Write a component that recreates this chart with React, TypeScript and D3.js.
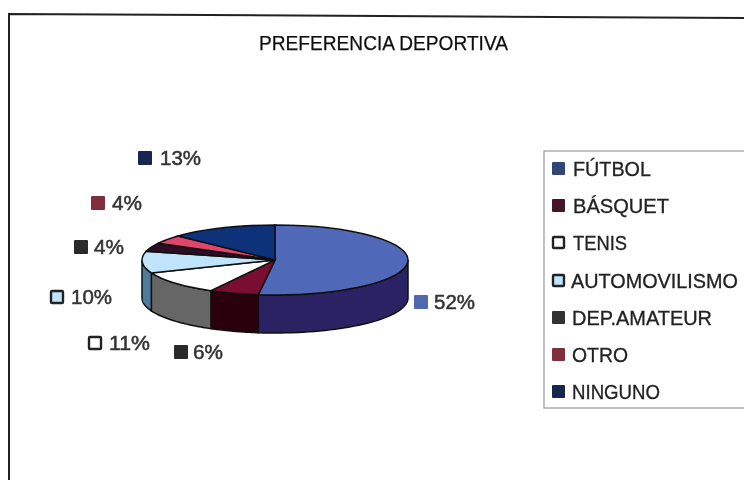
import React from "react";
import * as d3 from "d3";

const categories = ["FÚTBOL", "BÁSQUET", "TENIS", "AUTOMOVILISMO", "DEP.AMATEUR", "OTRO", "NINGUNO"];
const values = [52, 6, 11, 10, 4, 4, 13];
const title = "PREFERENCIA DEPORTIVA";
const topColors = ["#5069b8", "#7a1030", "#ffffff", "#bfe4fb", "#2d0a24", "#e0446c", "#0f3079"];
const wallColors = ["#2c2464", "#2a0010", "#666666", "#4f7a9c", "#1a0616", "#8a2040", "#0a1a4a"];
const swatchColors = ["#2f4677", "#45182c", "#ffffff", "#bfe4fb", "#333333", "#7f2e3c", "#17284f"];
const swatchStrokes = ["none", "none", "#222222", "#222222", "none", "none", "none"];
const labelSwatchColors = ["#5069b0", "#2a2a2a", "#ffffff", "#bfe4fb", "#2a2a2a", "#7f2e3c", "#17284f"];
const labelSwatchStrokes = ["none", "none", "#222222", "#222222", "none", "none", "none"];

// layout (not data)
const W = 744, H = 480;
const cx = 275, cy = 260, rx = 133, ry = 35, depth = 38;
const labelLayout = [
  { x: 414, y: 302, tx: 434, w: 41 },
  { x: 174, y: 352, tx: 193, w: 30 },
  { x: 88, y: 343, tx: 109, w: 41 },
  { x: 50, y: 297, tx: 71, w: 41 },
  { x: 74, y: 247, tx: 94, w: 30 },
  { x: 91, y: 203, tx: 112, w: 30 },
  { x: 138, y: 158, tx: 160, w: 41 },
];
const legendLayout = [
  { y: 169, x: 573, w: 78 },
  { y: 206, x: 573, w: 96 },
  { y: 243, x: 573, w: 54 },
  { y: 281, x: 571, w: 167 },
  { y: 318, x: 572, w: 140 },
  { y: 355, x: 572, w: 56 },
  { y: 392, x: 572, w: 88 },
];

const slices = d3.pie<number>().sort(null).startAngle(0).endAngle(2 * Math.PI)(values);
const arc = d3.arc<d3.PieArcDatum<number>>().innerRadius(0).outerRadius(rx);
const yScale = ry / rx;

function wallPath(a0: number, a1: number) {
  const lo = Math.max(a0, Math.PI / 2);
  const hi = Math.min(a1, (3 * Math.PI) / 2);
  if (hi <= lo) return null;
  const angles = d3.range(0, 41).map((i) => lo + ((hi - lo) * i) / 40);
  const px = (a: number) => cx + rx * Math.sin(a);
  const py = (a: number) => cy - ry * Math.cos(a);
  const top = angles.map((a) => [px(a), py(a)] as [number, number]);
  const bottom = angles.slice().reverse().map((a) => [px(a), py(a) + depth] as [number, number]);
  return d3.line()([...top, ...bottom]) + "Z";
}

const sans = "'Liberation Sans', Arial, sans-serif";

export default function App() {
  return (
    <svg width={W} height={H} viewBox={`0 0 ${W} ${H}`}
      style={{ position: "absolute", left: 0, top: 0, background: "#fff" }}>
      <defs>
        <filter id="scan" x="-5%" y="-5%" width="110%" height="110%">
          <feGaussianBlur stdDeviation="0.5" />
        </filter>
      </defs>
      <g filter="url(#scan)">
        <polyline points="9,480 9,14 744,18" fill="none" stroke="#222" strokeWidth={2} />
        <text x={259} y={50} fontFamily={sans} fontSize={21} fill="#111" stroke="#111" strokeWidth={0.25}
          textLength={249} lengthAdjust="spacingAndGlyphs">{title}</text>

        {slices.map((s, i) => {
          const d = wallPath(s.startAngle, s.endAngle);
          return d ? <path key={i} d={d} fill={wallColors[i]} stroke="#111" strokeWidth={1.5} /> : null;
        })}
        <g transform={`translate(${cx},${cy}) scale(1,${yScale})`}>
          {slices.map((s, i) => (
            <path key={i} d={arc(s) ?? ""} fill={topColors[i]} stroke="#111" strokeWidth={1.5}
              vectorEffect="non-scaling-stroke" />
          ))}
        </g>

        {values.map((v, i) => {
          const l = labelLayout[i];
          const stroked = labelSwatchStrokes[i] !== "none";
          return (
            <g key={i}>
              <rect x={l.x + (stroked ? 1 : 0)} y={l.y - 7 + (stroked ? 1 : 0)}
                width={stroked ? 12 : 14} height={stroked ? 12 : 14}
                rx={1} fill={labelSwatchColors[i]}
                stroke={labelSwatchStrokes[i]} strokeWidth={2.4} />
              <text x={l.tx} y={l.y + 7} fontFamily={sans} fontSize={20} fill="#333"
                textLength={l.w} lengthAdjust="spacingAndGlyphs" stroke="#333" strokeWidth={0.5}>{v}%</text>
            </g>
          );
        })}

        <rect x={544} y={151} width={230} height={257} fill="none" stroke="#999" strokeWidth={1.2} />
        {categories.map((c, i) => {
          const l = legendLayout[i];
          const stroked = swatchStrokes[i] !== "none";
          return (
            <g key={c}>
              <rect x={552 + (stroked ? 1 : 0)} y={l.y - 7 + (stroked ? 1 : 0)}
                width={stroked ? 11 : 13} height={stroked ? 11 : 13} rx={1}
                fill={swatchColors[i]} stroke={swatchStrokes[i]} strokeWidth={2.4} />
              <text x={l.x} y={l.y + 7} fontFamily={sans} fontSize={20} fill="#222" stroke="#222" strokeWidth={0.3}
                textLength={l.w} lengthAdjust="spacingAndGlyphs">{c}</text>
            </g>
          );
        })}
      </g>
    </svg>
  );
}
